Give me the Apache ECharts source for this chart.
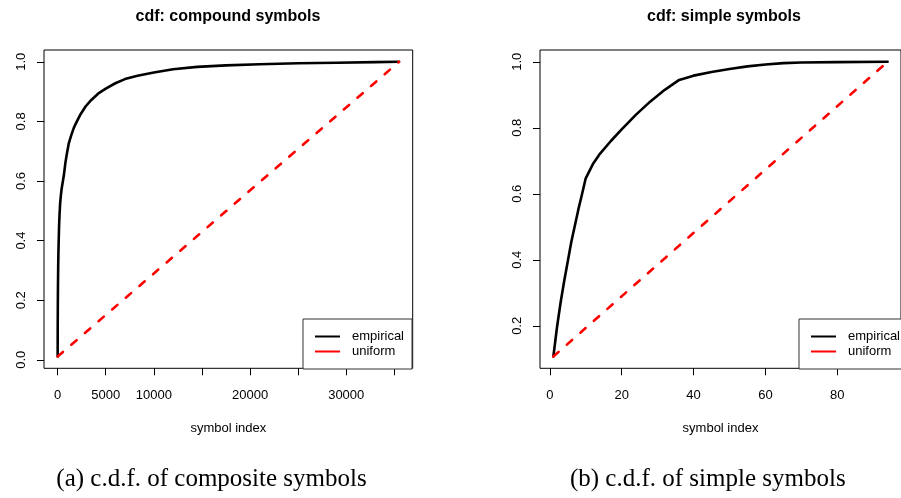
<!DOCTYPE html>
<html><head><meta charset="utf-8">
<script src="https://cdn.jsdelivr.net/npm/echarts@6/dist/echarts.min.js"></script>
<style>html,body{margin:0;padding:0;background:#fff}#c{width:901px;height:498px}</style>
</head><body><div id="c"></div>
<script>
// compound symbols: empirical cdf
const compX = [1,3,6,10,20,35,55,80,110,150,200,260,330,420,520,650,800,950,1150,1400,1700,2000,2400,2900,3500,4200,5000,6000,7000,8300,10000,12000,14500,17500,21000,25000,29000,33000,35490];
const compY = [0.011,0.05,0.09,0.13,0.19,0.25,0.31,0.36,0.40,0.45,0.49,0.525,0.55,0.575,0.595,0.62,0.66,0.69,0.725,0.752,0.78,0.80,0.825,0.85,0.872,0.893,0.91,0.928,0.942,0.953,0.964,0.975,0.983,0.988,0.992,0.995,0.997,0.999,1.0];
const compUniX = [1,35490];
const compUniY = [0.011,1.0];
// simple symbols: empirical cdf
const simpleX = [1,2,3,4,5,6,7,8,9,10,12,14,17,20,24,28,32,36,40,45,50,55,60,65,70,80,94];
const simpleY = [0.107,0.195,0.27,0.335,0.395,0.455,0.505,0.555,0.60,0.647,0.69,0.722,0.76,0.795,0.84,0.88,0.915,0.945,0.958,0.969,0.978,0.986,0.992,0.996,0.998,0.999,1.0];
const simpleUniX = [1,94];
const simpleUniY = [0.107,1.0];
// ticks
const compXTicks = [0,5000,10000,15000,20000,25000,30000,35000];
const compXLabels = [0,5000,10000,20000,30000];
const compYTicks = [0,0.2,0.4,0.6,0.8,1.0];
const simpleXTicks = [0,20,40,60,80];
const simpleYTicks = [0.2,0.4,0.6,0.8,1.0];
const titles = ['cdf: compound symbols','cdf: simple symbols'];
const captions = ['(a) c.d.f. of composite symbols','(b) c.d.f. of simple symbols'];
const xName = 'symbol index';
const legendNames = ['empirical','uniform'];

const SANS = '"Liberation Sans", Arial, Helvetica, sans-serif';
const SERIF = '"Liberation Serif", "Times New Roman", serif';
const zip = (a,b) => a.map((v,i)=>[v,b[i]]);

function xAxisCfg(idx, min, max, ticks, labels){
  return {type:'value', gridIndex:idx, min, max, position:'bottom',
    axisLine:{show:false, onZero:false}, splitLine:{show:false},
    axisTick:{show:true, inside:false, customValues:ticks, length:7, lineStyle:{color:'#000', width:1}},
    axisLabel:{customValues:labels, inside:false, margin:21, fontSize:13, color:'#000', fontFamily:SANS, hideOverlap:false,
      formatter:v=>String(v)},
    name:xName, nameLocation:'middle', nameGap:54,
    nameTextStyle:{fontSize:13, color:'#000', fontFamily:SANS}};
}
function yAxisCfg(idx, min, max, ticks){
  return {type:'value', gridIndex:idx, min, max, position:'left',
    axisLine:{show:false, onZero:false}, splitLine:{show:false},
    axisTick:{show:true, inside:false, customValues:ticks, length:7, lineStyle:{color:'#000', width:1}},
    axisLabel:{customValues:ticks, inside:false, rotate:90, margin:16, fontSize:13, color:'#000', fontFamily:SANS,
      formatter:v=>Number(v).toFixed(1)}};
}
function legendCfg(left, names){
  return {left, top:319, orient:'vertical', icon:'rect', itemWidth:25, itemHeight:2, itemGap:2,
    padding:[11,8,11,12], borderColor:'#333', borderWidth:1, backgroundColor:'#fff',
    data:names, selectedMode:false,
    textStyle:{fontSize:13, color:'#000', fontFamily:SANS, padding:[0,0,0,7]}};
}
const lineSeries = (name, xi, data, color, dashed) => ({
  name, type:'line', xAxisIndex:xi, yAxisIndex:xi, data, symbol:'none', smooth:false,
  silent:true, animation:false,
  lineStyle:{color, width:2.6, type: dashed ? [7,11] : 'solid', cap:'round', join:'round'},
  itemStyle:{color}
});

const chart = echarts.init(document.getElementById('c'), null, {renderer:'canvas'});
chart.setOption({
  animation:false,
  backgroundColor:'#fff',
  grid:[
    {left:44, top:50, width:368.7, height:318.3, show:true, borderColor:'#000', borderWidth:1, containLabel:false},
    {left:540, top:50, width:368.3, height:318.3, show:true, borderColor:'#000', borderWidth:1, containLabel:false}
  ],
  xAxis:[
    xAxisCfg(0, -1418.6, 36909.6, compXTicks, compXLabels),
    xAxisCfg(1, -2.72, 97.72, simpleXTicks, simpleXTicks)
  ],
  yAxis:[
    yAxisCfg(0, -0.0286, 1.0396, compYTicks),
    yAxisCfg(1, 0.0713, 1.0357, simpleYTicks)
  ],
  legend:[
    legendCfg(303, legendNames),
    legendCfg(799, legendNames)
  ],
  series:[
    lineSeries('empirical', 0, zip(compX, compY), '#000', false),
    lineSeries('uniform', 0, zip(compUniX, compUniY), '#ff0000', true),
    lineSeries('empirical', 1, zip(simpleX, simpleY), '#000', false),
    lineSeries('uniform', 1, zip(simpleUniX, simpleUniY), '#ff0000', true)
  ],
  graphic:[
    {type:'text', x:228, y:17, style:{text:titles[0], textAlign:'center', textVerticalAlign:'middle', font:'bold 16px '+SANS, fill:'#000'}},
    {type:'text', x:724, y:17, style:{text:titles[1], textAlign:'center', textVerticalAlign:'middle', font:'bold 16px '+SANS, fill:'#000'}},
    {type:'text', x:211.5, y:479, style:{text:captions[0], textAlign:'center', textVerticalAlign:'middle', font:'25px '+SERIF, fill:'#000'}},
    {type:'text', x:707.8, y:479, style:{text:captions[1], textAlign:'center', textVerticalAlign:'middle', font:'25px '+SERIF, fill:'#000'}}
  ]
});
</script></body></html>
